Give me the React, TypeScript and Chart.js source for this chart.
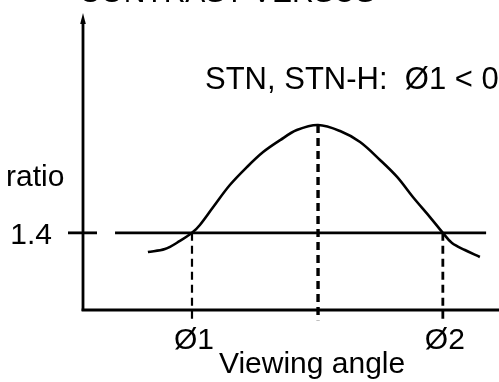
import React, { useEffect, useRef } from "react";
import { Chart, registerables } from "chart.js";

Chart.register(...registerables);

// ---- data (schematic: contrast ratio versus viewing angle) ----
const curveX = [15.6, 19.7, 23.3, 26.2, 28.1, 31.3, 35.3, 39.4, 43.3, 47.4, 51.4, 56.5, 61.8, 66.6, 71.4, 75.5, 79.3, 83.4, 86.5, 88.7, 91.8, 95.4];
const curveY = [1.301, 1.316, 1.358, 1.4, 1.441, 1.534, 1.648, 1.741, 1.819, 1.881, 1.933, 1.959, 1.928, 1.871, 1.778, 1.69, 1.586, 1.482, 1.4, 1.347, 1.311, 1.275];
const thresholdY = 1.4;
const thresholdX = [7.7, 96.9];
const phi1X = 26.2;
const phi2X = 86.5;
const peakX = 56.5;
const peakY = 1.959;
const dropBottomY = 0.952;
const yTickLabels = ["1.4"];
const xTickLabels = ["Ø1", "Ø2"];
const xTickValues = [phi1X, phi2X];
const titleText = "CONTRAST VERSUS";
const yAxisLabel = "ratio";
const xAxisLabel = "Viewing angle";
const noteText = "STN, STN-H:  Ø1 < 0°";

const FONT = '"Liberation Sans", Arial, Helvetica, sans-serif';

const diagramPlugin = {
  id: "diagram",
  afterDatasetsDraw(chart: any) {
    const { ctx, chartArea, scales } = chart;
    const xs = scales.x;
    const ys = scales.y;
    const left = chartArea.left;
    const bottom = chartArea.bottom;
    const top = chartArea.top;
    ctx.save();
    ctx.strokeStyle = "#000";
    ctx.fillStyle = "#000";
    // y axis with arrow
    ctx.lineWidth = 2.8;
    ctx.beginPath();
    ctx.moveTo(left, bottom + 1);
    ctx.lineTo(left, top + 8);
    ctx.stroke();
    ctx.beginPath();
    ctx.moveTo(left, top);
    ctx.lineTo(left - 2.8, top + 11);
    ctx.lineTo(left + 2.8, top + 11);
    ctx.closePath();
    ctx.fill();
    // x axis
    ctx.beginPath();
    ctx.moveTo(left - 1.4, bottom);
    ctx.lineTo(chart.width + 5, bottom);
    ctx.stroke();
    // 1.4 tick crossing the axis
    const yT = ys.getPixelForValue(thresholdY);
    ctx.beginPath();
    ctx.moveTo(left - 15, yT);
    ctx.lineTo(left + 14, yT);
    ctx.stroke();

    // texts
    ctx.font = `30px ${FONT}`;
    ctx.textBaseline = "alphabetic";
    ctx.textAlign = "right";
    ctx.fillText(yTickLabels[0], left - 31, yT + 11);
    ctx.textAlign = "left";
    ctx.fillText(yAxisLabel, 6, 186);
    ctx.textAlign = "center";
    xTickLabels.forEach((lab, i) => {
      ctx.fillText(lab, xs.getPixelForValue(xTickValues[i]) + 2, 349);
    });
    ctx.fillText(xAxisLabel, xs.getPixelForValue(peakX) - 6, 373);
    ctx.fillText(titleText, 227, 2);
    ctx.textAlign = "left";
    ctx.font = `31px ${FONT}`;
    ctx.fillText(noteText, 205, 89);
    ctx.restore();
  },
};

export default function App() {
  const ref = useRef<HTMLCanvasElement | null>(null);
  useEffect(() => {
    if (!ref.current) return;
    const pts = curveX.map((x, i) => ({ x, y: curveY[i] }));
    const chart = new Chart(ref.current, {
      type: "line",
      data: {
        datasets: [
          {
            data: pts,
            borderColor: "#000",
            borderWidth: 2.6,
            pointRadius: 0,
            tension: 0.35,
            fill: false,
          },
          {
            data: [
              { x: thresholdX[0], y: thresholdY },
              { x: thresholdX[1], y: thresholdY },
            ],
            borderColor: "#000",
            borderWidth: 2.8,
            pointRadius: 0,
            fill: false,
          },
          {
            data: [
              { x: phi1X, y: thresholdY },
              { x: phi1X, y: dropBottomY },
            ],
            borderColor: "#000",
            borderWidth: 2.2,
            borderDash: [8, 5],
            pointRadius: 0,
            fill: false,
            clip: false,
          },
          {
            data: [
              { x: phi2X, y: thresholdY },
              { x: phi2X, y: dropBottomY },
            ],
            borderColor: "#000",
            borderWidth: 2.8,
            borderDash: [8, 5],
            pointRadius: 0,
            fill: false,
            clip: false,
          },
          {
            data: [
              { x: peakX, y: peakY },
              { x: peakX, y: dropBottomY - 0.005 },
            ],
            borderColor: "#000",
            borderWidth: 3.4,
            borderDash: [8, 5],
            pointRadius: 0,
            fill: false,
            clip: false,
          },
        ],
      },
      options: {
        animation: false,
        responsive: false,
        devicePixelRatio: 1,
        layout: { padding: { left: 83, right: 0, top: 13, bottom: 72 } },
        plugins: { legend: { display: false }, tooltip: { enabled: false }, title: { display: false } },
        scales: {
          x: { type: "linear", min: 0, max: 100, display: false },
          y: { type: "linear", min: 1.0, max: 2.54, display: false },
        },
      },
      plugins: [diagramPlugin],
    });
    return () => chart.destroy();
  }, []);
  return (
    <div style={{ position: "absolute", left: 0, top: 0, width: 499, height: 382, background: "#fff" }}>
      <canvas ref={ref} width={499} height={382} style={{ display: "block" }} />
    </div>
  );
}
